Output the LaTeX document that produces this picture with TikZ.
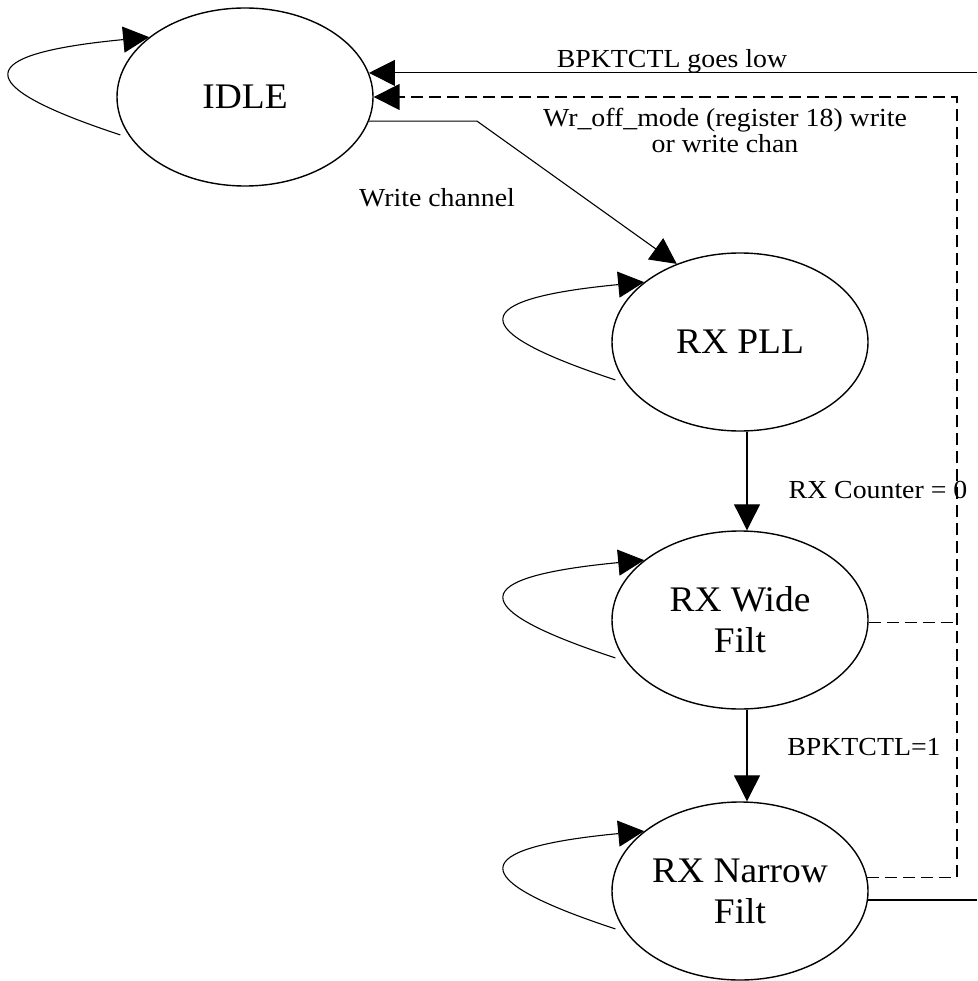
\documentclass[tikz,border=0pt]{standalone}
\usepackage{fontspec}
\setmainfont{Liberation Serif}
\newfontfamily\statefont[FakeStretch=1.04]{Liberation Serif}
\newfontfamily\edgefont[FakeStretch=1.07]{Liberation Serif}
\usetikzlibrary{shapes.geometric, arrows.meta}

\begin{document}
\begin{tikzpicture}[x=1pt, y=-1pt,
  state/.style={ellipse, draw, line width=1.4pt, minimum width=256pt,
    minimum height=178pt, inner sep=0pt, align=center,
    font=\statefont\fontsize{36}{41}\selectfont},
  trans/.style={line width=1.1pt, -{Triangle[length=26pt,width=26pt]}},
  backpath/.style={line width=1.6pt, dash pattern=on 12pt off 6pt},
  joinpath/.style={line width=1pt, dash pattern=on 12pt off 6pt},
  elabel/.style={font=\edgefont\fontsize{26}{26}\selectfont,
    inner sep=0pt, anchor=base}
]
\useasboundingbox (0,0) rectangle (977,981);

% states
\node[state] (idle)   at (245,97)  {IDLE};
\node[state] (pll)    at (740,342) {RX PLL};
\node[state] (wide)   at (740,620) {RX Wide\\Filt};
\node[state] (narrow) at (740,891) {RX Narrow\\Filt};

% right-hand rails
\coordinate (rim)   at (977,0);
\coordinate (dashx) at (957,0);

% self loops
\foreach \s in {idle,pll,wide,narrow}
  \draw[trans] ([xshift=-8pt]\s.198) .. controls +(-152,-50) and +(-178,17) .. (\s.148);

% forward transitions
\draw[trans] (idle.-11.5) -- ++(108,0) -- (pll.129.6);
\draw[trans] ([xshift=7pt]pll.south) -- ([xshift=7pt]wide.north);
\draw[trans] ([xshift=7pt]wide.south) -- ([xshift=7pt]narrow.north);

% return paths to IDLE
\draw[trans] (idle.11 -| rim) -- (idle.11);
\draw[trans, backpath] (narrow.6) -- (narrow.6 -| dashx) -- (dashx |- idle.east) -- (idle.east);
\draw[joinpath] (wide.-1) -- (wide.-1 -| dashx);
\draw[line width=1.1pt] (narrow.-4) -- (narrow.-4 -| rim);

% transition labels
\node[elabel] (lblLow)   at (672,68)  {BPKTCTL goes low};
\node[elabel, align=center] (lblWr) at (725,153) {Wr\_off\_mode (register 18) write\\or write chan};
\node[elabel] (lblWrite) at (437,207) {Write channel};
\node[elabel] (lblCnt)   at (878,498) {RX Counter = 0};
\node[elabel] (lblOne)   at (864,755) {BPKTCTL=1};
\end{tikzpicture}
\end{document}
